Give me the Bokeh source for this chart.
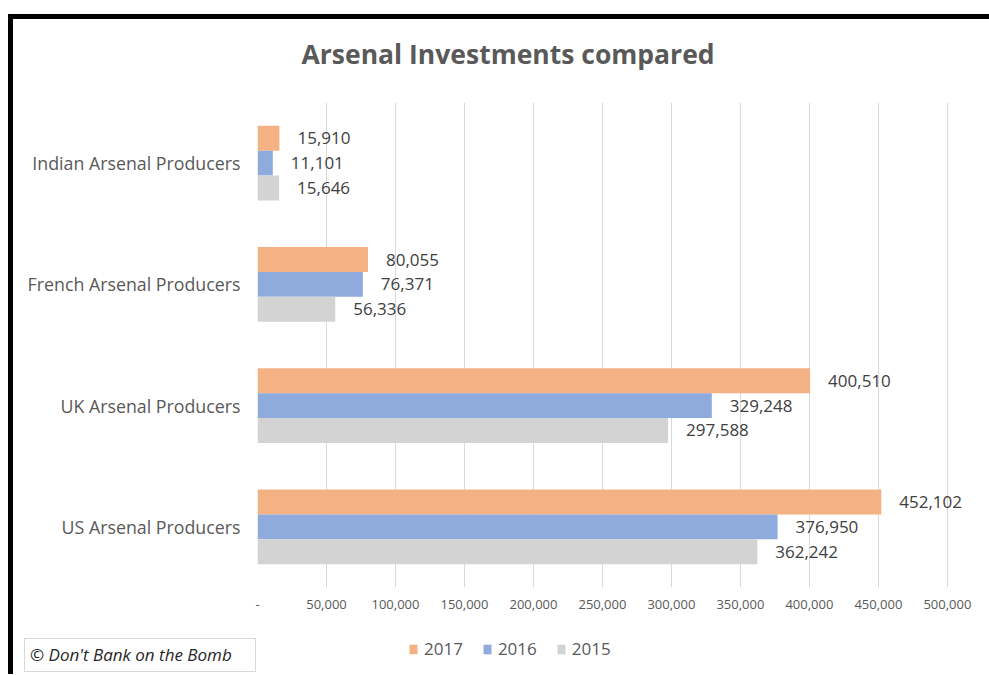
from bokeh.plotting import figure
from bokeh.layouts import column, row
from bokeh.models import (FactorRange, Range1d, Legend, LegendItem, Div, Title,
                          ColumnDataSource, NumeralTickFormatter, FixedTicker)
from bokeh.transform import dodge
from bokeh.core.properties import value
from bokeh.embed import file_html
from bokeh.resources import INLINE

# ---- data ----
categories = ["US Arsenal Producers", "UK Arsenal Producers",
              "French Arsenal Producers", "Indian Arsenal Producers"]
years = ["2017", "2016", "2015"]
v2017 = [452102, 400510, 80055, 15910]
v2016 = [376950, 329248, 76371, 11101]
v2015 = [362242, 297588, 56336, 15646]
x_ticks = [0, 50000, 100000, 150000, 200000, 250000, 300000, 350000, 400000, 450000, 500000]
chart_title = "Arsenal Investments compared"
credit = "\u00a9 Don't Bank on the Bomb"

colors = {"2017": "#F4B183", "2016": "#8FAADC", "2015": "#D3D3D3"}
series = {"2017": v2017, "2016": v2016, "2015": v2015}
offsets = {"2017": 0.205, "2016": 0.0, "2015": -0.205}

FONT = "Open Sans"
W = 976

# ---------------- main chart ----------------
p = figure(width=W, height=609, output_backend="svg", toolbar_location=None,
           y_range=FactorRange(factors=categories), x_range=Range1d(0, 524000),
           min_border_left=244, min_border_right=9, min_border_top=83, min_border_bottom=41)

# spacer between the frame and the title, then the title itself
p.add_layout(Title(text=" ", text_font_size="1px", standoff=28), "above")
p.add_layout(Title(text=chart_title, text_font=FONT, text_font_size="26.5px",
                   text_font_style="bold", text_color="#595959",
                   align="left", offset=44, standoff=0), "above")

p.outline_line_color = None
p.background_fill_color = "white"
p.border_fill_color = "white"
p.ygrid.grid_line_color = None
p.xgrid.grid_line_color = "#D9D9D9"
p.xgrid.grid_line_width = 1

p.xaxis.ticker = FixedTicker(ticks=x_ticks)
p.xaxis.formatter = NumeralTickFormatter(format="0,0")
p.xaxis.major_label_overrides = {0: "-"}
p.xaxis.axis_line_color = None
p.xaxis.major_tick_line_color = None
p.xaxis.minor_tick_line_color = None
p.xaxis.major_tick_out = 0
p.xaxis.major_tick_in = 0
p.xaxis.major_label_standoff = 12
p.xaxis.major_label_text_font = FONT
p.xaxis.major_label_text_font_size = "13px"
p.xaxis.major_label_text_color = "#595959"

p.yaxis.axis_line_color = None
p.yaxis.major_tick_line_color = None
p.yaxis.minor_tick_line_color = None
p.yaxis.major_tick_out = 0
p.yaxis.major_tick_in = 0
p.yaxis.major_label_standoff = 17
p.yaxis.major_label_text_font = FONT
p.yaxis.major_label_text_font_size = "17.8px"
p.yaxis.major_label_text_color = "#595959"

for yr in years:
    vals = series[yr]
    src = ColumnDataSource(dict(cat=categories, val=vals, txt=[f"{v:,}" for v in vals]))
    p.hbar(y=dodge("cat", offsets[yr], range=p.y_range), right="val", left=0, height=0.205,
           source=src, fill_color=colors[yr], line_color=None)
    p.text(x="val", y=dodge("cat", offsets[yr], range=p.y_range), text="txt", source=src,
           x_offset=18, text_align="left", text_baseline="middle",
           text_font=value(FONT), text_font_size="17px", text_color="#404040")

# ---------------- bottom strip: credit box + legend ----------------
credit_div = Div(
    text=('<div style="position:relative; left:11px; top:10px; width:225px; height:32px; '
          'padding-left:5px; border:1px solid #D9D9D9; box-sizing:content-box; '
          "font-family:'Open Sans'; font-style:italic; font-size:17px; line-height:32px; "
          'color:#262626; white-space:nowrap; background:white;">' + credit + '</div>'),
    width=243, height=46, margin=(0, 0, 0, 0))

lf = figure(width=W - 243, height=46, output_backend="svg", toolbar_location=None,
            x_range=Range1d(0, 1), y_range=Range1d(0, 1),
            min_border_left=0, min_border_right=0, min_border_top=0, min_border_bottom=0)
lf.xaxis.visible = False
lf.yaxis.visible = False
lf.grid.visible = False
lf.outline_line_color = None
lf.background_fill_color = "white"
lf.border_fill_color = "white"

items = []
for yr in years:
    r = lf.rect(x=[0.5], y=[0.5], width=0.01, height=0.01, fill_color=colors[yr],
                line_color=None, visible=False)
    items.append(LegendItem(label=yr, renderers=[r]))

legend = Legend(items=items, orientation="horizontal", location=(152, 14),
                glyph_width=10, glyph_height=12, label_standoff=6, spacing=19,
                padding=0, margin=0, border_line_color=None, background_fill_alpha=0,
                label_text_font=FONT, label_text_font_size="17px", label_text_color="#595959")
lf.add_layout(legend, "center")

bottom = row(credit_div, lf, spacing=0)

layout = column(p, bottom, spacing=0,
                styles={"border-top": "5px solid black", "border-left": "5px solid black",
                        "margin-top": "14px", "margin-left": "8px"})

open("out.html", "w").write(file_html(layout, INLINE))
